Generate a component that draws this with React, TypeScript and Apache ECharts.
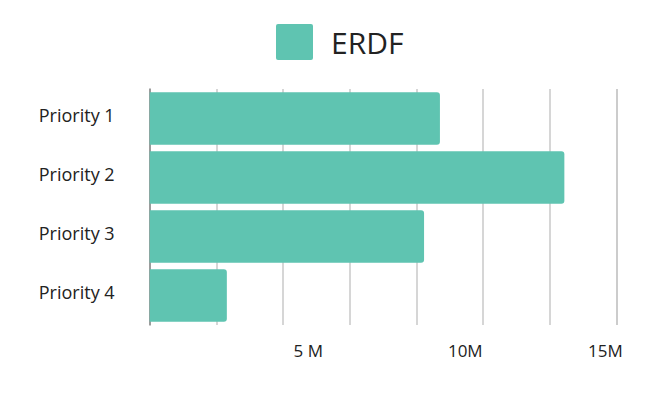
import { useEffect, useRef } from "react";
import * as echarts from "echarts";

const categories = ["Priority 1", "Priority 2", "Priority 3", "Priority 4"];
const erdfValues = [9330000, 13330000, 8820000, 2480000];
const axisMax = 15000000;
const gridSteps = 7;
const tickLabels: Record<number, string> = {
  5000000: "5 M",
  10000000: "10M",
  15000000: "15M",
};

const FONT = "'Open Sans', 'Noto Sans', sans-serif";
const BAR_COLOR = "#5fc4b1";
const LEGEND_ICON =
  "path://M2,0H35Q37,0 37,2V34Q37,36 35,36H2Q0,36 0,34V2Q0,0 2,0Z";

const App = () => {
  const chartRef = useRef<HTMLDivElement>(null);

  useEffect(() => {
    document.body.style.margin = "0";
    if (!chartRef.current) return;

    const chart = echarts.init(chartRef.current, undefined, { renderer: "svg" });

    const option = {
      animation: false,
      textStyle: { fontFamily: FONT },
      legend: {
        data: ["ERDF"],
        left: 276,
        top: 24,
        padding: 0,
        icon: LEGEND_ICON,
        itemWidth: 37,
        itemHeight: 36,
        textStyle: {
          fontSize: 30,
          lineHeight: 36,
          color: "#222",
          fontFamily: FONT,
          padding: [0, 0, 0, 13],
        },
      },
      grid: {
        left: 149.7,
        right: 33.7,
        top: 89,
        bottom: 75,
      },
      xAxis: [
        {
          type: "value",
          min: 0,
          max: axisMax,
          interval: axisMax / gridSteps,
          axisLine: { show: false },
          axisTick: { show: false },
          axisLabel: { show: false },
          splitLine: { lineStyle: { color: "#c8c8c8", width: 1.5 } },
        },
        {
          type: "value",
          position: "bottom",
          min: 0,
          max: axisMax,
          interval: 5000000,
          axisLine: { show: false },
          axisTick: { show: false },
          splitLine: { show: false },
          axisLabel: {
            margin: 17,
            fontSize: 17,
            color: "#222",
            fontFamily: FONT,
            formatter: (v: number) => {
              const t = tickLabels[v];
              if (!t) return "";
              if (v === 5000000) return `{a|${t}}`;
              if (v === 10000000) return `{b|${t}}`;
              return `{c|${t}}`;
            },
            rich: {
              a: { fontSize: 17, color: "#222", fontFamily: FONT, padding: [0, 0, 0, 6] },
              b: { fontSize: 17, color: "#222", fontFamily: FONT, padding: [0, 0, 0, 9] },
              c: { fontSize: 17, color: "#222", fontFamily: FONT, padding: [0, 22, 0, 0] },
            },
          },
        },
      ],
      yAxis: {
        type: "category",
        data: categories,
        inverse: true,
        axisLine: { show: true, lineStyle: { color: "#888", width: 1.5 } },
        axisTick: { show: false },
        splitLine: { show: false },
        axisLabel: {
          fontSize: 18,
          color: "#222",
          fontFamily: FONT,
          align: "center",
          margin: 73,
          verticalAlign: "bottom",
          lineHeight: 7,
        },
      },
      series: [
        {
          name: "ERDF",
          type: "bar",
          xAxisIndex: 0,
          data: erdfValues,
          barCategoryGap: "10.7%",
          itemStyle: {
            color: BAR_COLOR,
            borderRadius: [0, 3, 3, 0],
          },
        },
      ],
    };

    chart.setOption(option);

    const handleResize = () => {
      chart.resize();
    };
    window.addEventListener("resize", handleResize);

    return () => {
      window.removeEventListener("resize", handleResize);
      chart.dispose();
    };
  }, []);

  return <div ref={chartRef} style={{ width: "650px", height: "400px" }} />;
};

export default App;
